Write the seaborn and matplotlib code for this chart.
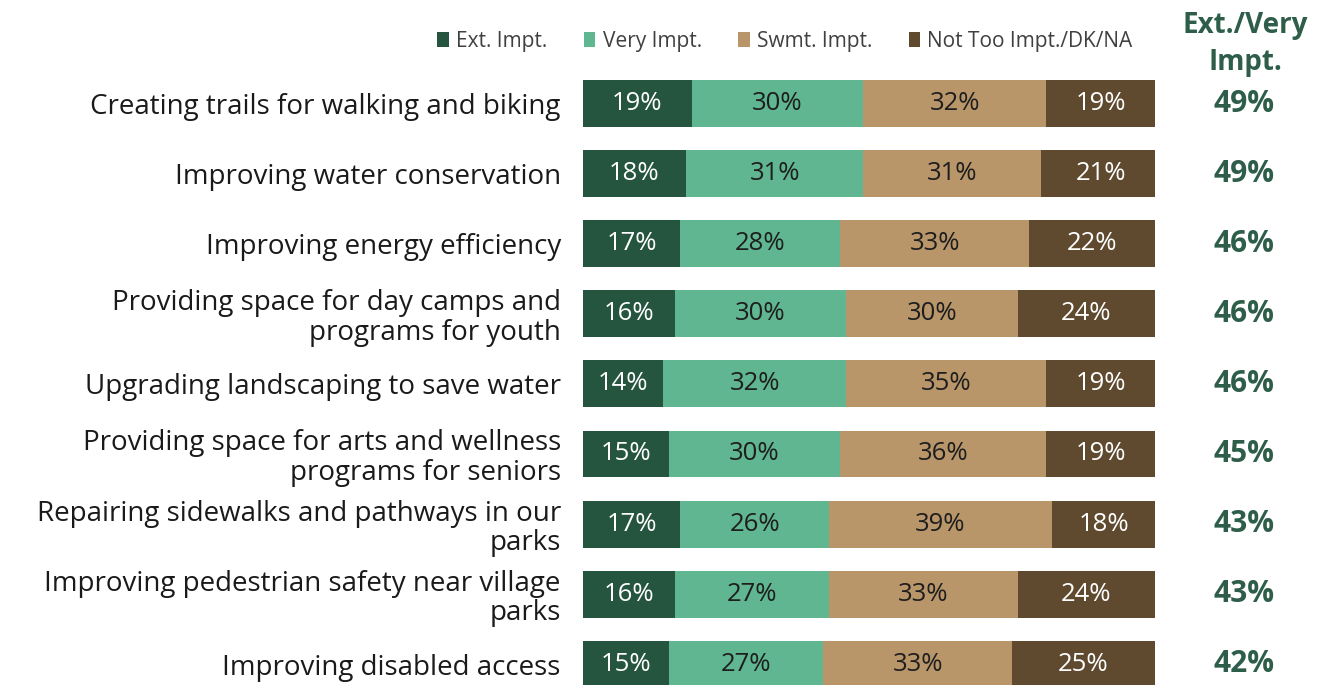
import matplotlib
matplotlib.use("Agg")
import matplotlib.pyplot as plt
import seaborn as sns
import numpy as np
import pandas as pd
from matplotlib.patches import Patch

sns.set_theme(style="white")
plt.rcParams['font.family'] = ['Open Sans', 'DejaVu Sans']

items = [
    "Creating trails for walking and biking",
    "Improving water conservation",
    "Improving energy efficiency",
    "Providing space for day camps and\nprograms for youth",
    "Upgrading landscaping to save water",
    "Providing space for arts and wellness\nprograms for seniors",
    "Repairing sidewalks and pathways in our\nparks",
    "Improving pedestrian safety near village\nparks",
    "Improving disabled access",
]
ext_impt = [19, 18, 17, 16, 14, 15, 17, 16, 15]
very_impt = [30, 31, 28, 30, 32, 30, 26, 27, 27]
swmt_impt = [32, 31, 33, 30, 35, 36, 39, 33, 33]
not_too = [19, 21, 22, 24, 19, 19, 18, 24, 25]
ext_very_total = [49, 49, 46, 46, 46, 45, 43, 43, 42]

series_names = ["Ext. Impt.", "Very Impt.", "Swmt. Impt.", "Not Too Impt./DK/NA"]
colors = ["#25543f", "#5fb690", "#b9966a", "#5f4a2f"]
text_colors = ["white", "#1e1e1e", "#1e1e1e", "white"]

series = [ext_impt, very_impt, swmt_impt, not_too]
cum = np.cumsum(np.array(series, dtype=float), axis=0)

fig = plt.figure(figsize=(13.2, 6.85), dpi=100)
ax = fig.add_axes([583 / 1320, 0.0, (1155 - 583) / 1320, (685 - 68.7) / 685])

df = pd.DataFrame({"item": items})
# Stacked bars: draw cumulative totals from the outermost segment inward
for k in range(3, -1, -1):
    df["val"] = cum[k]
    sns.barplot(data=df, x="val", y="item", orient="h", color=colors[k],
                width=0.67, saturation=1, ax=ax, linewidth=0)

for k in range(4):
    for i in range(len(items)):
        v = series[k][i]
        ax.text(cum[k][i] - v / 2, i, f"{v}%", ha="center", va="center",
                fontsize=18.5, color=text_colors[k])

for i, t in enumerate(ext_very_total):
    ax.text(1.155, i, f"{t}%", transform=ax.get_yaxis_transform(),
            ha="center", va="center", fontsize=21.5, fontweight="bold",
            color="#2e5e4a")

ax.set_xlim(0, 100)
ax.set_ylim(8 + (685 - 664) / 70.6, -0.5)
ax.set_xlabel("")
ax.set_ylabel("")
ax.set_xticks([])
ax.tick_params(axis="y", length=0, pad=16, labelsize=20, labelcolor="#1a1a1a")
for lbl in ax.get_yticklabels():
    lbl.set_multialignment("right")
    lbl.set_linespacing(1.08)
for s in ax.spines.values():
    s.set_visible(False)

fig.text(1245 / 1320, 1 - 44 / 685, "Ext./Very\nImpt.", ha="center", va="center",
         fontsize=20, fontweight="bold", color="#2e5e4a", linespacing=1.35)

handles = [Patch(facecolor=c, edgecolor="none") for c in colors]
fig.legend(handles, series_names, loc="center", bbox_to_anchor=(785 / 1320, 1 - 41 / 685),
           ncol=4, frameon=False, fontsize=15, handlelength=0.55, handleheight=0.7,
           handletextpad=0.35, columnspacing=1.75, labelcolor="#404040")

fig.savefig("out.png", dpi=100, facecolor="white")
